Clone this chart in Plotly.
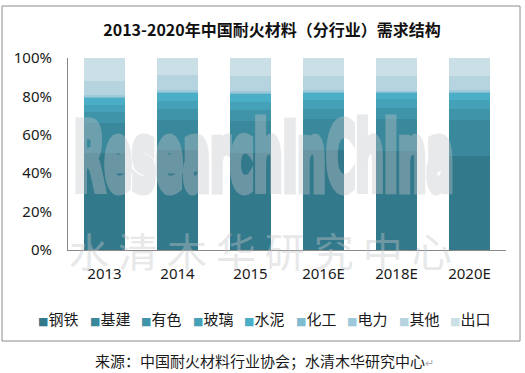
import plotly.graph_objects as go

# ---------------- data ----------------
years = ["2013", "2014", "2015", "2016E", "2018E", "2020E"]
series_names = ["钢铁", "基建", "有色", "玻璃", "水泥", "化工", "电力", "其他", "出口"]
steel = [50.3, 52.1, 50.7, 52.1, 51.6, 49.0]
infrastructure = [16.0, 15.6, 16.5, 16.1, 16.6, 18.7]
nonferrous = [5.6, 5.7, 5.7, 5.2, 5.9, 5.7]
glass = [3.6, 4.2, 4.4, 4.7, 4.5, 4.7]
cement = [4.0, 4.4, 4.3, 4.0, 3.5, 4.0]
chemical = [0.5, 0.5, 0.5, 0.5, 0.3, 0.5]
power = [0.7, 0.8, 0.7, 0.7, 0.4, 0.7]
other = [7.3, 7.8, 7.8, 7.3, 7.8, 7.3]
export = [12.0, 8.9, 9.4, 9.4, 9.4, 9.4]
y_tick_values = [0, 20, 40, 60, 80, 100]
y_tick_labels = ["0%", "20%", "40%", "60%", "80%", "100%"]

title_text = "2013-2020年中国耐火材料（分行业）需求结构"
source_text = "来源：中国耐火材料行业协会；水清木华研究中心"
watermark_en = "ResearchInChina"
watermark_cn = "水 清 木 华 研 究 中 心"

series_values = [steel, infrastructure, nonferrous, glass, cement,
                 chemical, power, other, export]
colors = ["#31798b", "#39889b", "#3f94a9", "#45a1b7", "#4aaec6",
          "#7fbccf", "#9ccadb", "#b5d4e0", "#cbdfe7"]

# ---------------- layout geometry (pixels) ----------------
W, H = 525, 373
ML, MR, MT, MB = 68, 19, 58, 123
PW = W - ML - MR
PH = H - MT - MB


def px_x(x):
    return (x - ML) / PW


def px_y(y):
    return (H - MB - y) / PH


CJK = "Noto Sans CJK SC"

fig = go.Figure()
for name, vals, col in zip(series_names, series_values, colors):
    fig.add_trace(go.Bar(
        x=years, y=vals, name=name,
        marker=dict(color=col, line=dict(width=0)),
        showlegend=False,
    ))

annotations = []

# watermarks
annotations.append(dict(
    text=watermark_en, xref="paper", yref="paper",
    x=px_x(263), y=px_y(158), xanchor="center", yanchor="middle",
    showarrow=False, opacity=0.38,
    font=dict(family="DejaVu Sans", size=60, color="#c4c6c9", weight="bold"),
))
annotations.append(dict(
    text=watermark_cn, xref="paper", yref="paper",
    x=px_x(260), y=px_y(250), xanchor="center", yanchor="middle",
    showarrow=False, opacity=0.4,
    font=dict(family=CJK, size=40, color="#c4c6c9"),
))

# legend (text swatches)
for i, (name, col) in enumerate(zip(series_names, colors)):
    annotations.append(dict(
        text=f"<span style=\"font-family:'DejaVu Sans';font-size:11px;color:{col}\">■</span>{name}",
        xref="paper", yref="paper",
        x=px_x(36 + i * 51.5), y=px_y(318), xanchor="left", yanchor="middle",
        showarrow=False,
        font=dict(family=CJK, size=15, color="#1a1a1a"),
    ))

# source line
annotations.append(dict(
    text=source_text + "<span style=\"color:#b0b0b0;font-size:11px\">↵</span>",
    xref="paper", yref="paper",
    x=px_x(264), y=px_y(360), xanchor="center", yanchor="middle",
    showarrow=False,
    font=dict(family=CJK, size=15, color="#1a1a1a"),
))

fig.update_layout(
    width=W, height=H,
    margin=dict(l=ML, r=MR, t=MT, b=MB, pad=0),
    paper_bgcolor="white", plot_bgcolor="white",
    barmode="stack", bargap=0.425,
    title=dict(text=f"<b>{title_text}</b>", x=272 / W,
               xanchor="center", y=1 - 30 / H, yanchor="middle",
               font=dict(family=CJK, size=16, color="#111111")),
    xaxis=dict(type="category", showline=True, linecolor="#888888", linewidth=1,
               ticks="", showgrid=False, ticklabelstandoff=10,
               tickfont=dict(family="Noto Sans", size=15, color="#1a1a1a")),
    yaxis=dict(range=[0, 100], tickvals=y_tick_values, ticktext=y_tick_labels,
               showline=True, linecolor="#888888", linewidth=1, ticks="",
               showgrid=False, zeroline=False, ticklabelstandoff=12,
               tickfont=dict(family="Noto Sans", size=15, color="#1a1a1a")),
    annotations=annotations,
    shapes=[dict(type="rect", xref="paper", yref="paper",
                 x0=px_x(2), x1=px_x(520), y0=px_y(341), y1=px_y(6),
                 line=dict(color="#8c8c8c", width=1), fillcolor="rgba(0,0,0,0)",
                 layer="below")],
)

post_js = """
(function(){
document.documentElement.style.margin = '0';
document.body.style.margin = '0';
document.body.style.padding = '0';
var gd = document.getElementById('{plot_id}');
function fix(){
  var ts = gd.querySelectorAll('text.annotation-text');
  for (var i = 0; i < ts.length; i++){
    var t = ts[i];
    if (t.textContent === 'ResearchInChina'){
      t.style.transform = '';
      var bb = t.getBBox();
      var sw = 7;
      var sx = (387 - sw) / bb.width;
      var sy = 0.74 * (98 - sw) / (0.729 * 60);
      t.style.transformBox = 'fill-box';
      t.style.transformOrigin = 'center';
      t.style.transform = 'scale(' + sx + ',' + sy + ')';
      t.style.stroke = '#c4c6c9';
      t.style.strokeWidth = sw + 'px';
      t.style.vectorEffect = 'non-scaling-stroke';
      t.style.strokeLinejoin = 'miter';
    }
  }
}
fix();
if (gd.on) { gd.on('plotly_afterplot', fix); }
})();
"""

fig.write_html("out.html", post_script=post_js, config={"displayModeBar": False})
